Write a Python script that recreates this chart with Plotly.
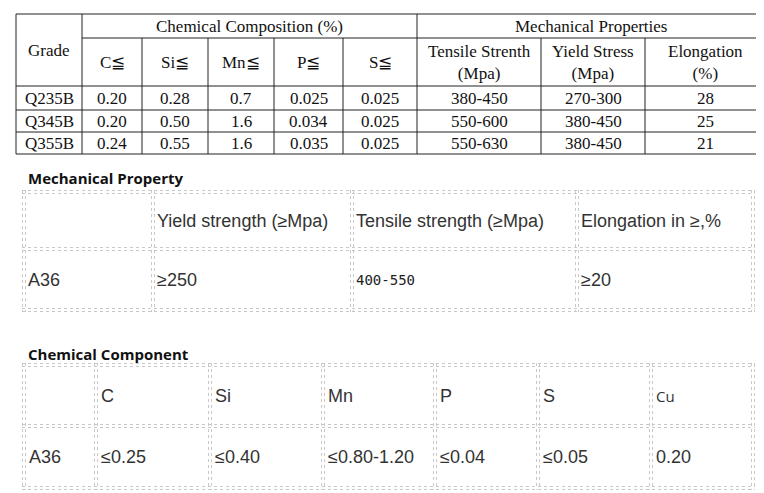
import plotly.graph_objects as go

# Table 1 data
grades = ["Q235B", "Q345B", "Q355B"]
chem_heads = ["C≦", "Si≦", "Mn≦", "P≦", "S≦"]
mech_heads = ["Tensile Strenth<br>(Mpa)", "Yield Stress<br>(Mpa)", "Elongation<br>(%)"]
chem_vals = [["0.20", "0.28", "0.7", "0.025", "0.025"],
             ["0.20", "0.50", "1.6", "0.034", "0.025"],
             ["0.24", "0.55", "1.6", "0.035", "0.025"]]
mech_vals = [["380-450", "270-300", "28"],
             ["550-600", "380-450", "25"],
             ["550-630", "380-450", "21"]]

# Table 2 data
mp_heads = ["", "Yield strength (≥Mpa)", "Tensile strength (≥Mpa)", "Elongation in ≥,%"]
mp_vals = ["A36", "≥250", "400-550", "≥20"]

# Table 3 data
cc_heads = ["", "C", "Si", "Mn", "P", "S", "Cu"]
cc_vals = ["A36", "≤0.25", "≤0.40", "≤0.80-1.20", "≤0.04", "≤0.05", "0.20"]

# Layout geometry (pixels)
t1_x = [8, 74, 134, 200, 266, 335, 409, 533, 637, 757]
t1_y = [6, 30, 78, 102, 124, 146]
t2_x = [16, 145, 344, 569, 745]
t2_y = [184, 241, 302]
t3_x = [16, 88, 202, 315, 427, 530, 643, 745]
t3_y = [357, 418, 480]

shapes = []
ann = []
serif = dict(family="Liberation Serif, Times New Roman, serif", size=17, color="#111")
sans = dict(family="Liberation Sans, Arial, sans-serif", size=18, color="#333")


def line(x0, y0, x1, y1, color="#222", width=1, dash="solid"):
    shapes.append(dict(type="line", x0=x0, y0=y0, x1=x1, y1=y1, xref="x", yref="y",
                       line=dict(color=color, width=width, dash=dash)))


def text(x, y, s, font, xanchor="center"):
    ann.append(dict(x=x, y=y, text=s, xref="x", yref="y", showarrow=False,
                    xanchor=xanchor, yanchor="middle", font=font))


# Table 1 borders
L, R = t1_x[0], t1_x[-1]
for y in [t1_y[0], t1_y[2], t1_y[3], t1_y[4], t1_y[5]]:
    line(L, y, R, y)
line(t1_x[1], t1_y[1], R, t1_y[1])
for i, x in enumerate(t1_x):
    if i in (0, 1, 6, 9):
        line(x, t1_y[0], x, t1_y[5])
    else:
        line(x, t1_y[1], x, t1_y[5])

text((t1_x[0] + t1_x[1]) / 2, (t1_y[0] + t1_y[2]) / 2, "Grade", serif)
text((t1_x[1] + t1_x[6]) / 2, (t1_y[0] + t1_y[1]) / 2, "Chemical Composition (%)", serif)
text((t1_x[6] + t1_x[9]) / 2, (t1_y[0] + t1_y[1]) / 2, "Mechanical Properties", serif)
heads = chem_heads + mech_heads
for j, h in enumerate(heads):
    text((t1_x[j + 1] + t1_x[j + 2]) / 2, (t1_y[1] + t1_y[2]) / 2, h, serif)
for r, g in enumerate(grades):
    yc = (t1_y[r + 2] + t1_y[r + 3]) / 2
    text((t1_x[0] + t1_x[1]) / 2, yc, g, serif)
    for j, v in enumerate(chem_vals[r] + mech_vals[r]):
        text((t1_x[j + 1] + t1_x[j + 2]) / 2, yc, v, serif)


def dotted_table(xs, ys):
    for y in ys:
        for off in (-1.5, 1.5):
            line(xs[0] - 2, y + off, xs[-1] + 2, y + off, color="#c8c8c8", dash="dot")
    for x in xs:
        for off in (-1.5, 1.5):
            line(x + off, ys[0] - 2, x + off, ys[-1] + 2, color="#c8c8c8", dash="dot")


title = dict(family="Open Sans, Liberation Sans, sans-serif", size=15, color="#111")

# Table 2
ann.append(dict(x=18, y=170, text="<b>Mechanical Property</b>", xref="x", yref="y", showarrow=False,
                xanchor="left", yanchor="middle", font=title))
dotted_table(t2_x, t2_y)
for j in range(4):
    text(t2_x[j] + 2, (t2_y[0] + t2_y[1]) / 2, mp_heads[j], sans, "left")
    f = sans if j != 2 else dict(family="DejaVu Sans Mono, monospace", size=14, color="#222")
    text(t2_x[j] + 2, (t2_y[1] + t2_y[2]) / 2, mp_vals[j], f, "left")

# Table 3
ann.append(dict(x=18, y=346, text="<b>Chemical Component</b>", xref="x", yref="y", showarrow=False,
                xanchor="left", yanchor="middle", font=title))
dotted_table(t3_x, t3_y)
for j in range(7):
    f = sans if j != 6 else dict(family="Open Sans, sans-serif", size=15, color="#333")
    text(t3_x[j] + 3, (t3_y[0] + t3_y[1]) / 2, cc_heads[j], f, "left")
    text(t3_x[j] + 3, (t3_y[1] + t3_y[2]) / 2, cc_vals[j], sans, "left")

fig = go.Figure()
fig.update_layout(width=764, height=493, margin=dict(l=0, r=0, t=0, b=0),
                  paper_bgcolor="white", plot_bgcolor="white",
                  xaxis=dict(range=[0, 764], visible=False, fixedrange=True),
                  yaxis=dict(range=[493, 0], visible=False, fixedrange=True),
                  shapes=shapes, annotations=ann, showlegend=False)
fig.write_html("out.html", config={"displayModeBar": False})
